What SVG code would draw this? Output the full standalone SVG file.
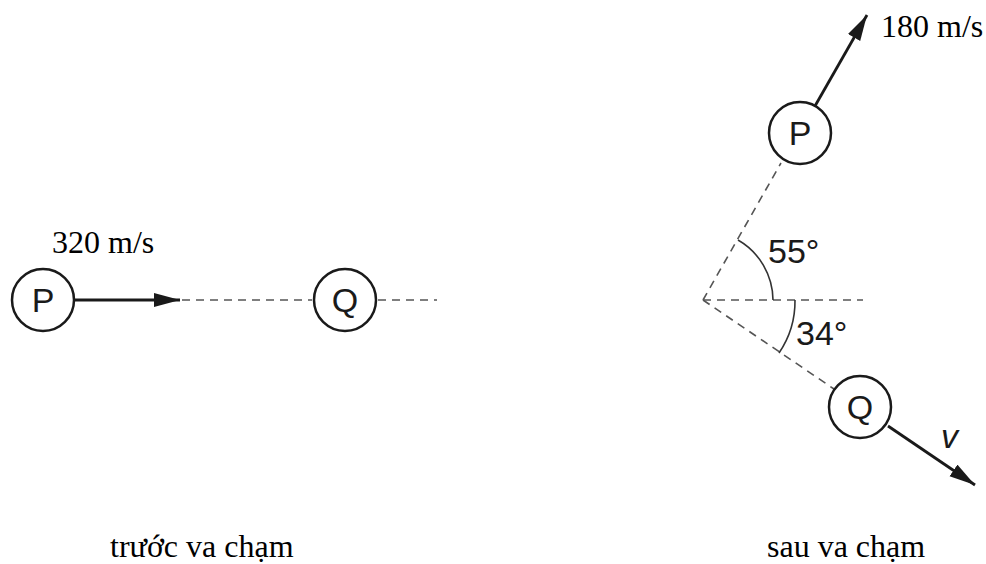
<svg xmlns="http://www.w3.org/2000/svg" width="986" height="564" viewBox="0 0 986 564">
<style>
.ball{fill:#fff;stroke:#1a1a1a;stroke-width:2.5}
.lbl{font-family:"Liberation Sans",Arial,sans-serif;font-size:34px;fill:#1a1a1a}
.tim{font-family:"Liberation Serif","Times New Roman",serif;font-size:32px;fill:#000}
.dash{stroke:#555;stroke-width:1.6;stroke-dasharray:8,6;fill:none}
.arr{stroke:#1a1a1a;stroke-width:2.8;fill:none;marker-end:url(#ah)}
.arc{stroke:#333;stroke-width:1.6;fill:none}
</style>
<defs>
<marker id="ah" markerUnits="userSpaceOnUse" markerWidth="28" markerHeight="16" refX="26" refY="7" orient="auto">
<path d="M0,0 L26,7 L0,14 Z" fill="#1a1a1a"/>
</marker>
</defs>
<rect width="986" height="564" fill="#fff"/>
<g id="connectors">
<line class="arr" x1="74" y1="300" x2="180" y2="300"/>
<line class="dash" x1="182" y1="300" x2="312" y2="300"/>
<line class="dash" x1="378" y1="300" x2="437" y2="300"/>
<line class="dash" x1="703" y1="300" x2="863" y2="300"/>
<line class="dash" x1="703" y1="300" x2="781" y2="163"/>
<line class="dash" x1="703" y1="300" x2="834" y2="389"/>
<line class="arr" x1="815" y1="106" x2="867" y2="15"/>
<line class="arr" x1="888" y1="426" x2="975" y2="485"/>
<path class="arc" d="M738,240 A70,70 0 0 1 773,300"/>
<path class="arc" d="M795,300 A92,92 0 0 1 779,353"/>
</g>
<g id="P1"><circle class="ball" cx="43" cy="300" r="31"/><text class="lbl" x="43" y="312" text-anchor="middle">P</text></g>
<g id="Q1"><circle class="ball" cx="345" cy="300" r="31"/><text class="lbl" x="345" y="312" text-anchor="middle">Q</text></g>
<g id="P2"><circle class="ball" cx="800" cy="133" r="31"/><text class="lbl" x="800" y="145" text-anchor="middle">P</text></g>
<g id="Q2"><circle class="ball" cx="860" cy="407" r="31"/><text class="lbl" x="860" y="419" text-anchor="middle">Q</text></g>
<g id="labels">
<text class="tim" x="52" y="253">320 m/s</text>
<text class="tim" x="881" y="37">180 m/s</text>
<text class="lbl" x="768" y="263">55°</text>
<text class="lbl" x="796" y="345">34°</text>
<text class="lbl" x="941" y="448" font-style="italic">v</text>
<text class="tim" x="110" y="557">trước va chạm</text>
<text class="tim" x="767" y="557">sau va chạm</text>
</g>
</svg>
